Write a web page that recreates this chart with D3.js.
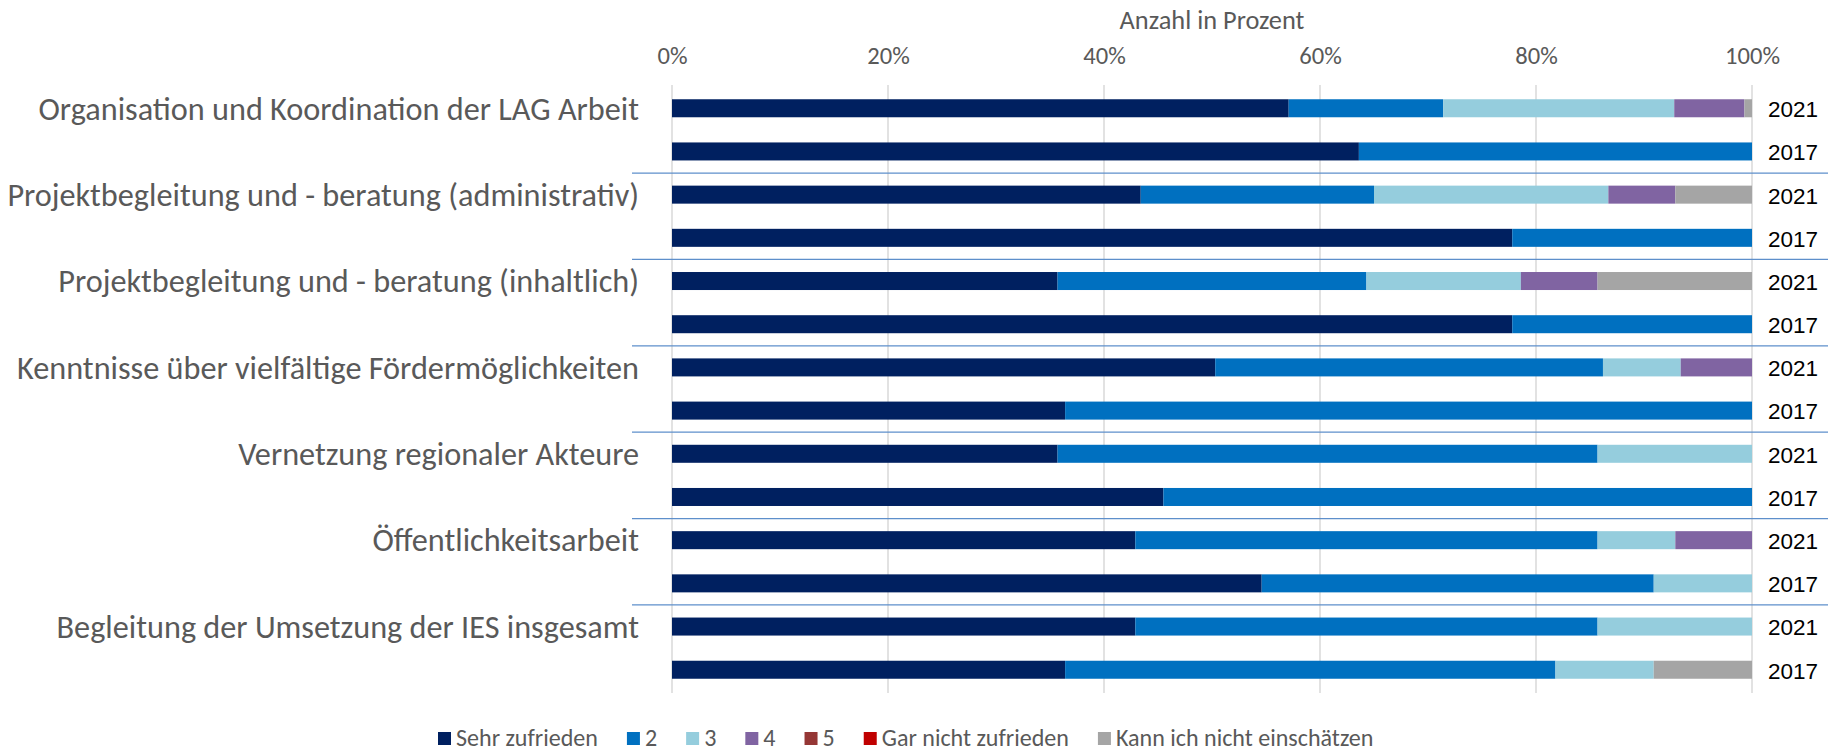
<!DOCTYPE html>
<html>
<head>
<meta charset="utf-8">
<script src="https://cdn.jsdelivr.net/npm/d3@7"></script>
<style>
  html, body { margin: 0; padding: 0; background: #ffffff; }
  svg { display: block; }
</style>
</head>
<body>
<svg id="chart" width="1828" height="754"></svg>
<script>
// Survey topics (one group each, two survey years per group)
const categories = [
  "Organisation und Koordination der LAG Arbeit",
  "Projektbegleitung und - beratung (administrativ)",
  "Projektbegleitung und - beratung (inhaltlich)",
  "Kenntnisse über vielfältige Fördermöglichkeiten",
  "Vernetzung regionaler Akteure",
  "Öffentlichkeitsarbeit",
  "Begleitung der Umsetzung der IES insgesamt"
];
const years = ["2021", "2017"];

// Rating scale (legend order)
const seriesNames = ["Sehr zufrieden", "2", "3", "4", "5", "Gar nicht zufrieden", "Kann ich nicht einschätzen"];
const seriesColors = ["#002060", "#0070C0", "#95CDDD", "#8064A2", "#953735", "#C00000", "#A5A5A5"];

// Shares in percent, one value per row: topic 1 (2021, 2017), topic 2 (2021, 2017), ...
const sehrZufrieden   = [57.1, 63.6, 43.4, 77.8, 35.7, 77.8, 50.3, 36.4, 35.7, 45.5, 42.9, 54.6, 42.9, 36.4];
const note2           = [14.3, 36.4, 21.6, 22.2, 28.6, 22.2, 35.9, 63.6, 50.0, 54.5, 42.8, 36.3, 42.8, 45.4];
const note3           = [21.4, 0,    21.7, 0,    14.3, 0,    7.2,  0,    14.3, 0,    7.2,  9.1,  14.3, 9.1];
const note4           = [6.5,  0,    6.2,  0,    7.1,  0,    6.6,  0,    0,    0,    7.1,  0,    0,    0];
const note5           = [0,    0,    0,    0,    0,    0,    0,    0,    0,    0,    0,    0,    0,    0];
const garNicht        = [0,    0,    0,    0,    0,    0,    0,    0,    0,    0,    0,    0,    0,    0];
const kannNicht       = [0.7,  0,    7.1,  0,    14.3, 0,    0,    0,    0,    0,    0,    0,    0,    9.1];

const xTicks = [0, 20, 40, 60, 80, 100];
const axisTitle = "Anzahl in Prozent";

const seriesValues = [sehrZufrieden, note2, note3, note4, note5, garNicht, kannNicht];

// Row table for d3.stack
const rows = [];
categories.forEach((c, ci) => {
  years.forEach((y, yi) => {
    const idx = ci * years.length + yi;
    const row = { key: idx, category: c, year: y, first: yi === 0 };
    seriesNames.forEach((s, si) => { row[s] = seriesValues[si][idx]; });
    rows.push(row);
  });
});

const svg = d3.select("#chart");
const textGray = "#595959";
const labelFont = "Carlito, Lato, 'Open Sans', sans-serif";
const numFont = "'Liberation Sans', Arial, sans-serif";

const plot = { left: 672, right: 1752, top: 85, bottom: 693 };

const x = d3.scaleLinear().domain([0, 100]).range([plot.left, plot.right]);
const y = d3.scaleBand()
  .domain(rows.map(r => r.key))
  .range([plot.top, plot.bottom])
  .paddingInner(0.583)
  .paddingOuter(0.33);

// Text helper: scale the font size so a selection's total width matches a target
function fitWidth(sel, target) {
  const fs = parseFloat(sel.attr("font-size"));
  let w = 0;
  sel.each(function () { w += this.getComputedTextLength(); });
  const size = fs * target / w;
  sel.attr("font-size", size);
  return size;
}

// Vertical gridlines
svg.append("g")
  .selectAll("line")
  .data(xTicks)
  .join("line")
  .attr("x1", d => x(d)).attr("x2", d => x(d))
  .attr("y1", plot.top).attr("y2", plot.bottom)
  .attr("stroke", "#D9D9D9")
  .attr("stroke-width", 1.5);

// Top axis with percent labels
const axis = svg.append("g")
  .attr("transform", `translate(0,${plot.top - 30})`)
  .call(d3.axisTop(x).tickValues(xTicks).tickSize(0).tickPadding(0).tickFormat(d => d + "%"));
axis.select(".domain").remove();
axis.selectAll("text")
  .attr("fill", textGray)
  .attr("font-family", labelFont)
  .attr("font-size", 20)
  .attr("dy", "0.35em");
const tickSize = fitWidth(axis.selectAll("text").filter(d => d === 100), 55);
axis.selectAll("text").attr("font-size", tickSize);

// Axis title
const title = svg.append("text")
  .attr("x", (plot.left + plot.right) / 2)
  .attr("y", 20)
  .attr("dy", "0.35em")
  .attr("text-anchor", "middle")
  .attr("fill", textGray)
  .attr("font-family", labelFont)
  .attr("font-size", 20)
  .text(axisTitle);
fitWidth(title, 185);

// Group separators
const groupBounds = d3.range(1, categories.length).map(i => {
  const prev = y(i * 2 - 1) + y.bandwidth();
  const next = y(i * 2);
  return (prev + next) / 2;
});
svg.append("g")
  .selectAll("line")
  .data(groupBounds)
  .join("line")
  .attr("x1", 632).attr("x2", 1828)
  .attr("y1", d => d).attr("y2", d => d)
  .attr("stroke", "#5E8FCB")
  .attr("stroke-width", 1.3);

// Stacked bars
const stack = d3.stack().keys(seriesNames);
const layers = stack(rows);
svg.append("g")
  .selectAll("g")
  .data(layers)
  .join("g")
  .attr("fill", (d, i) => seriesColors[i])
  .selectAll("rect")
  .data(d => d.filter(p => p[1] - p[0] > 0))
  .join("rect")
  .attr("x", d => x(d[0]))
  .attr("width", d => x(d[1]) - x(d[0]))
  .attr("y", d => y(d.data.key))
  .attr("height", y.bandwidth());

// Year labels on the right
svg.append("g")
  .selectAll("text")
  .data(rows)
  .join("text")
  .attr("x", 1768)
  .attr("y", d => y(d.key) + y.bandwidth() / 2 + 1)
  .attr("dy", "0.35em")
  .attr("fill", "#000000")
  .attr("font-family", numFont)
  .attr("font-size", 22.5)
  .text(d => d.year);

// Topic labels on the left, next to the first bar of each group
const catLabels = svg.append("g")
  .selectAll("text")
  .data(rows.filter(r => r.first))
  .join("text")
  .attr("x", 639)
  .attr("y", d => y(d.key) + y.bandwidth() / 2)
  .attr("dy", "0.35em")
  .attr("text-anchor", "end")
  .attr("fill", textGray)
  .attr("font-family", labelFont)
  .attr("font-size", 26)
  .text(d => d.category);
// total width of all seven labels
fitWidth(catLabels, 3685);

// Legend
const legend = svg.append("g").attr("transform", "translate(438,738)");
const probe = legend.append("text")
  .attr("font-family", labelFont)
  .attr("font-size", 20)
  .text(seriesNames[0]);
const legendSize = fitWidth(probe, 142);
probe.remove();
let lx = 0;
seriesNames.forEach((name, i) => {
  const item = legend.append("g").attr("transform", `translate(${lx},0)`);
  item.append("rect")
    .attr("x", 0).attr("y", -6)
    .attr("width", 13).attr("height", 13)
    .attr("fill", seriesColors[i]);
  const t = item.append("text")
    .attr("x", 18).attr("y", 0)
    .attr("dy", "0.35em")
    .attr("fill", textGray)
    .attr("font-family", labelFont)
    .attr("font-size", legendSize)
    .text(name);
  lx += 18 + t.node().getComputedTextLength() + 29;
});
</script>
</body>
</html>
